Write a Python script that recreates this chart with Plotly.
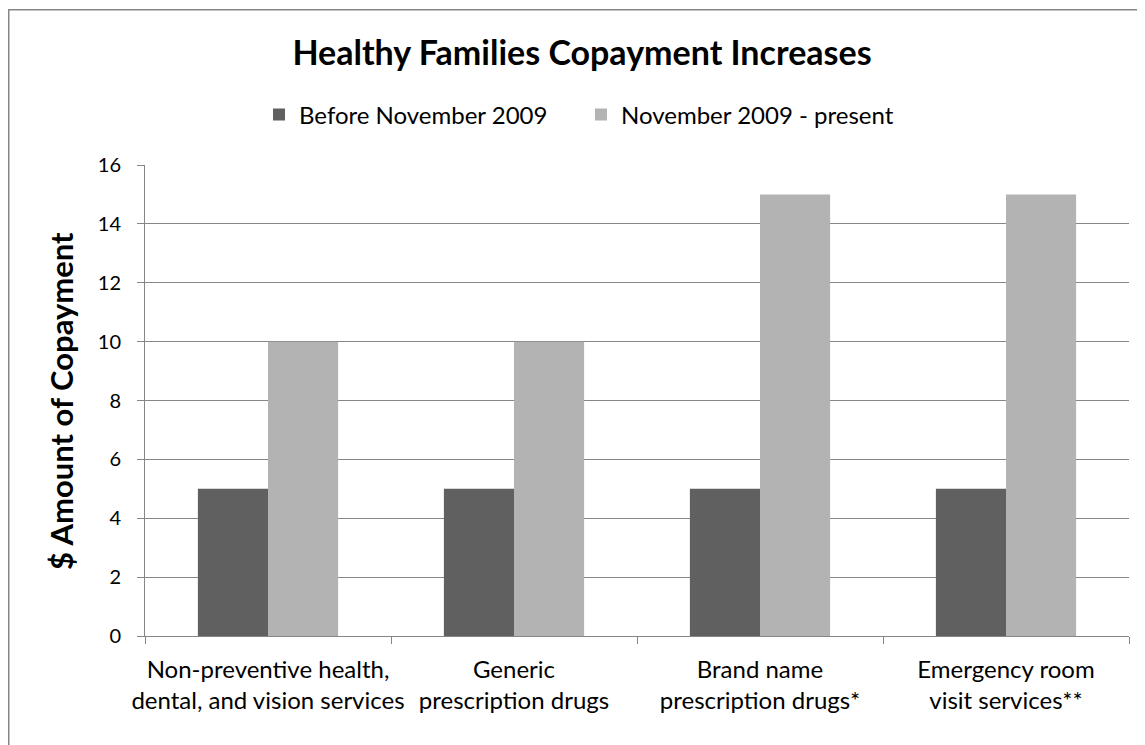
import plotly.graph_objects as go

categories = [
    "Non-preventive health,<br>dental, and vision services",
    "Generic<br>prescription drugs",
    "Brand name<br>prescription drugs*",
    "Emergency room<br>visit services**",
]
before_nov_2009 = [5, 5, 5, 5]
nov_2009_present = [10, 10, 15, 15]
y_ticks = [0, 2, 4, 6, 8, 10, 12, 14, 16]

# page has an 8px body margin; figure coordinates = page coordinates - 8
OFF = 8
W, H = 1137, 737
L, R, T, B = 145 - OFF, 1129 - OFF, 165 - OFF, 636 - OFF
pw, ph = R - L, B - T

def px(x_page):
    return (x_page - OFF - L) / pw

def py(y_page):
    return (B - (y_page - OFF)) / ph

FONT = "Lato"
GRID = "#868686"

fig = go.Figure()
fig.add_trace(go.Bar(name="Before November 2009", x=categories, y=before_nov_2009,
                     marker=dict(color="#606060", line=dict(width=0))))
fig.add_trace(go.Bar(name="November 2009 - present", x=categories, y=nov_2009_present,
                     marker=dict(color="#b3b3b3", line=dict(width=0))))

fig.update_layout(
    width=W, height=H,
    margin=dict(l=L, r=W - R, t=T, b=H - B, autoexpand=False),
    paper_bgcolor="white", plot_bgcolor="white",
    barmode="group", bargap=0.43, bargroupgap=0,
    font=dict(family=FONT, color="black"),
    title=dict(text="<b>Healthy Families Copayment Increases</b>",
               xref="container", x=(582 - OFF) / W, xanchor="center",
               yref="container", y=1 - (53 - OFF) / H, yanchor="middle",
               font=dict(size=34, family=FONT, color="black")),
    legend=dict(orientation="h", x=px(259), xanchor="left", y=py(115), yanchor="middle",
                xref="paper", yref="paper",
                font=dict(size=24, family=FONT, color="black"),
                itemwidth=30, traceorder="normal",
                entrywidth=277, entrywidthmode="pixels",
                bgcolor="rgba(0,0,0,0)"),
    showlegend=True,
)
fig.update_xaxes(
    showline=True, linecolor=GRID, linewidth=1,
    ticks="outside", tickson="boundaries", ticklen=7, tickcolor=GRID,
    tickangle=0,
    tickfont=dict(size=24, family=FONT, color="black"),
    ticklabelstandoff=12,
    showgrid=False,
)
fig.update_yaxes(
    range=[0, 16], tickvals=y_ticks, ticktext=[str(v) for v in y_ticks],
    showline=True, linecolor=GRID, linewidth=1,
    ticks="outside", ticklen=7, tickcolor=GRID,
    showgrid=True, gridcolor=GRID, gridwidth=1,
    zeroline=False,
    tickfont=dict(size=20, family=FONT, color="black"),
    ticklabelstandoff=12,
)

fig.add_annotation(text="<b>$ Amount of Copayment</b>", textangle=-90,
                   xref="paper", yref="paper", x=px(61), y=py(401),
                   xanchor="center", yanchor="middle", showarrow=False,
                   font=dict(size=31, family=FONT, color="black"))

fig.add_shape(type="rect", xref="paper", yref="paper",
              x0=px(8.75), x1=px(1160), y0=py(760), y1=py(9.75),
              line=dict(color=GRID, width=1.5), fillcolor="rgba(0,0,0,0)", layer="below")

fig.write_html("out.html")
